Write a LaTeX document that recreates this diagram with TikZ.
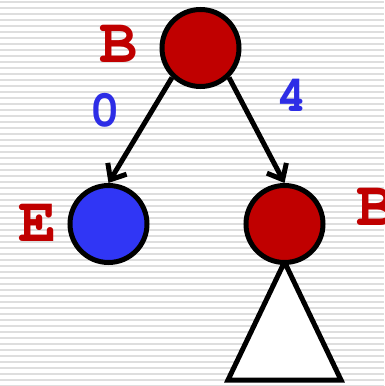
\documentclass[tikz,border=0pt]{standalone}
\usepackage[T1,TU]{fontenc}
\usetikzlibrary{arrows.meta}
\newcommand\courierbold{\fontencoding{T1}\fontfamily{pcr}\fontseries{b}\selectfont}
\definecolor{nodered}{RGB}{192,0,0}
\definecolor{nodeblue}{RGB}{48,54,245}
\definecolor{labelblue}{RGB}{45,45,230}
\definecolor{stripegray}{RGB}{222,222,222}
\tikzset{
  vertex/.style={circle, draw=black, line width=5pt, minimum size=77pt, inner sep=0pt},
  redvertex/.style={vertex, fill=nodered},
  bluevertex/.style={vertex, fill=nodeblue},
  edge/.style={draw=black, line width=5pt, -{Straight Barb[length=13pt,width=22pt]}},
  letter/.style={inner sep=0pt, text=nodered, font=\courierbold\fontsize{64}{64}\selectfont},
  weight/.style={inner sep=0pt, text=labelblue, font=\courierbold\fontsize{52}{52}\selectfont},
  subtree/.style={draw=black, fill=white, line width=5pt, line join=miter}
}
\begin{document}
\begin{tikzpicture}[x=1pt,y=-1pt]
  % page and striped background
  \useasboundingbox (0,0) rectangle (384,386);
  \fill[white] (0,0) rectangle (384,386);
  \foreach \i in {0,...,64}
    \fill[stripegray] (0,\i*6+1) rectangle (384,\i*6+3);

  % subtree hanging from the right child
  \coordinate (tl) at (228,380);
  \coordinate (tr) at (341,380);
  \coordinate (ta) at (284.5,262);
  \draw[subtree] (ta) -- (tr) -- (tl) -- cycle;

  % tree vertices
  \node[redvertex]  (root)  at (200.5,48) {};
  \node[bluevertex] (left)  at (108.5,224) {};
  \node[redvertex]  (right) at (284.5,224) {};

  % edges
  \draw[edge] (root.-134) -- (left.north);
  \draw[edge] (root.-46) -- (right.north);

  % vertex names
  \node[letter] (lroot)  at (118.5,45) {B};
  \node[letter] (lleft)  at (37.5,224) {E};
  \node[letter] (lright) at (375.5,208) {B};

  % edge weights
  \node[weight] (w0) at (105.5,111) {0};
  \node[weight] (w4) at (292.5,95) {4};
\end{tikzpicture}
\end{document}
